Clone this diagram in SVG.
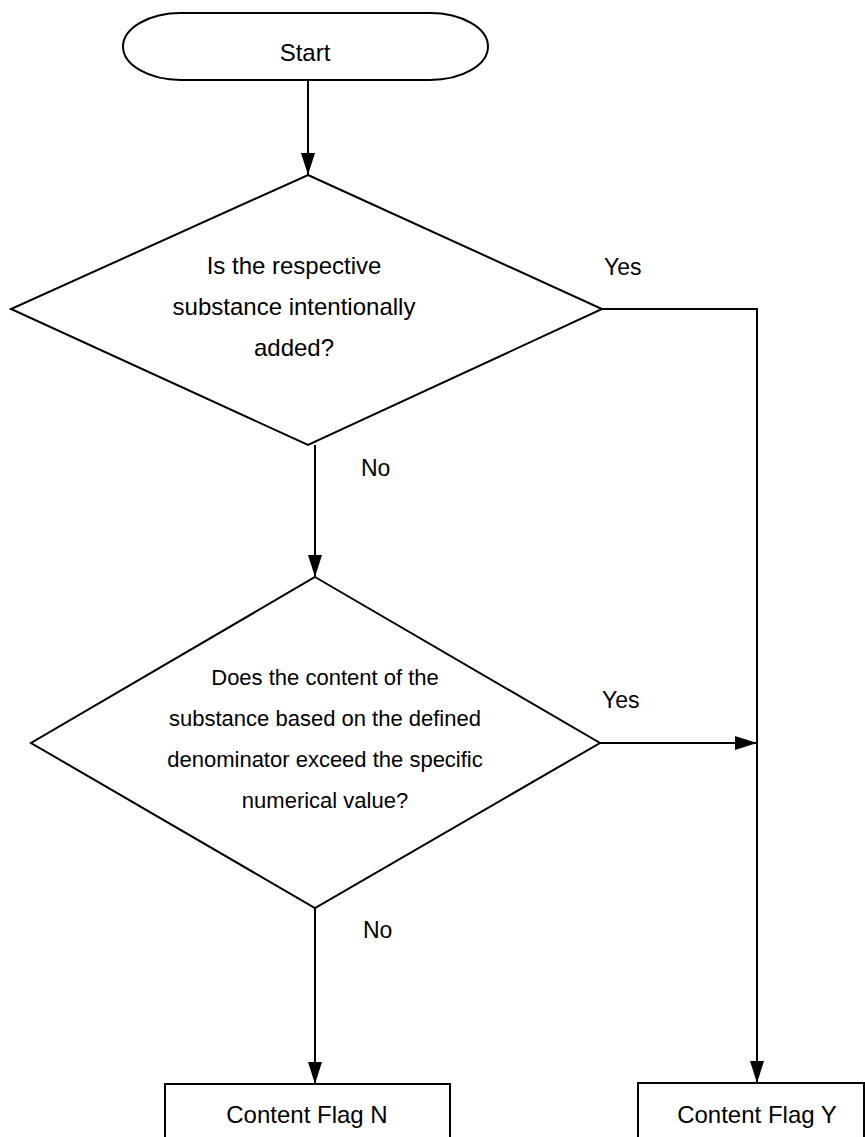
<svg xmlns="http://www.w3.org/2000/svg" width="865" height="1137" viewBox="0 0 865 1137">
<style>
.s{fill:#fff;stroke:#000;stroke-width:2}
.c{fill:none;stroke:#000;stroke-width:2}
text{font-family:"Liberation Sans",Arial,sans-serif;fill:#000}
.t{font-size:24px;text-anchor:middle}
.t2{font-size:22px;text-anchor:middle}
.l{font-size:23px}
</style>
<defs>
<marker id="ah" markerUnits="userSpaceOnUse" markerWidth="24" markerHeight="14" refX="22" refY="7" orient="auto">
<path d="M0,0 L22,7 L0,14 Z" fill="#000"/>
</marker>
</defs>
<g id="connectors">
<line class="c" x1="308" y1="80" x2="308" y2="175" marker-end="url(#ah)"/>
<line class="c" x1="315" y1="445" x2="315" y2="577" marker-end="url(#ah)"/>
<polyline class="c" points="602,309 757,309 757,1083" marker-end="url(#ah)"/>
<line class="c" x1="600" y1="743" x2="757" y2="743" marker-end="url(#ah)"/>
<line class="c" x1="315" y1="908" x2="315" y2="1084" marker-end="url(#ah)"/>
<text class="l" x="604" y="275">Yes</text>
<text class="l" x="602" y="708">Yes</text>
<text class="l" x="361" y="476">No</text>
<text class="l" x="363" y="938">No</text>
</g>
<g id="start">
<rect class="s" x="123" y="13" width="365" height="67" rx="58" ry="33.5"/>
<text class="t" x="305" y="61">Start</text>
</g>
<g id="decision1">
<polygon class="s" points="308,175 602,309 308,445 11,309"/>
<text class="t" x="294" y="274">Is the respective</text>
<text class="t" x="294" y="315">substance intentionally</text>
<text class="t" x="294" y="356">added?</text>
</g>
<g id="decision2">
<polygon class="s" points="315,577 600,743 315,908 31,743"/>
<text class="t2" x="325" y="685">Does the content of the</text>
<text class="t2" x="325" y="726">substance based on the defined</text>
<text class="t2" x="325" y="767">denominator exceed the specific</text>
<text class="t2" x="325" y="808">numerical value?</text>
</g>
<g id="flagN">
<rect class="s" x="165" y="1084" width="285" height="70"/>
<text class="t" x="307" y="1123">Content Flag N</text>
</g>
<g id="flagY">
<rect class="s" x="638" y="1083" width="226" height="70"/>
<text class="t" x="757" y="1123">Content Flag Y</text>
</g>
</svg>
